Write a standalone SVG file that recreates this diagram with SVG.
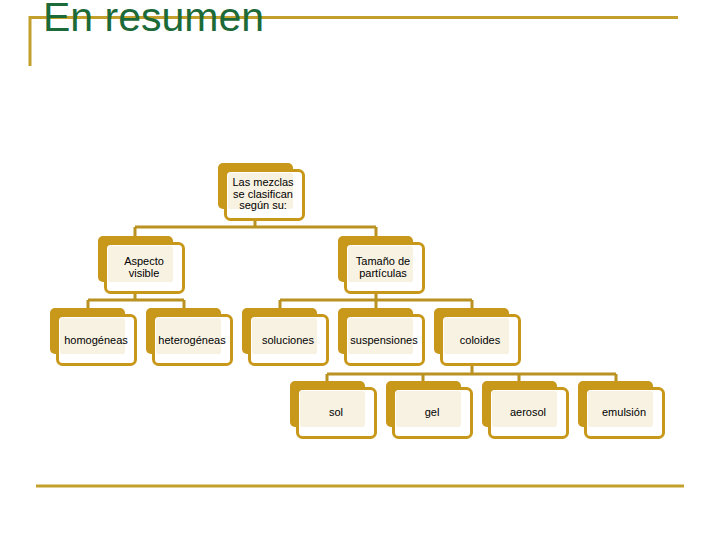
<svg xmlns="http://www.w3.org/2000/svg" width="720" height="540" viewBox="0 0 720 540">
<style>
.back{fill:#C8981A;}
.front{fill:#FFFFFF;stroke:#C8981A;stroke-width:3;}
.cream{fill:#F8F2E3;}
.lbl{font-family:"Liberation Sans",Arial,sans-serif;font-size:11px;fill:#000;text-anchor:middle;}
.conn{fill:none;stroke:#BA9221;stroke-width:3;}
.rule{stroke:#C3A02B;stroke-width:3;fill:none;}
</style>
<defs>
<g id="node">
<rect class="back" x="0" y="0" width="75" height="46" rx="5"/>
<rect class="front" x="7.5" y="7.5" width="78" height="49" rx="5"/>
<rect class="cream" x="10" y="10" width="65" height="36" rx="2"/>
</g>
</defs>
<rect width="720" height="540" fill="#FFFFFF"/>
<g id="title">
<line class="rule" x1="30" y1="17.5" x2="678" y2="17.5"/>
<line class="rule" x1="30" y1="16" x2="30" y2="66"/>
<text x="43" y="31" font-family="Liberation Sans,Arial,sans-serif" font-size="41" fill="#1B6A38">En resumen</text>
</g>
<line class="rule" x1="36" y1="486" x2="684" y2="486"/>
<g id="connectors">
<path class="conn" d="M255,219 V227 M135,227 H376 M135,227 V238 M376,227 V238"/>
<path class="conn" d="M135,292 V300 M88,300 H184 M88,300 V310 M184,300 V310"/>
<path class="conn" d="M376,292 V300 M280,300 H472 M280,300 V310 M376,300 V310 M472,300 V310"/>
<path class="conn" d="M472,364 V374 M327,374 H616 M327,374 V383 M423,374 V383 M519,374 V383 M616,374 V383"/>
</g>
<g id="n-mezclas">
<use href="#node" x="218" y="163"/>
<text class="lbl" x="263" y="186">Las mezclas</text>
<text class="lbl" x="263" y="197.5">se clasifican</text>
<text class="lbl" x="263" y="209">según su:</text>
</g>
<g id="n-aspecto">
<use href="#node" x="98" y="236"/>
<text class="lbl" x="144" y="265">Aspecto</text>
<text class="lbl" x="144" y="277">visible</text>
</g>
<g id="n-tamano">
<use href="#node" x="338" y="236"/>
<text class="lbl" x="383" y="265">Tamaño de</text>
<text class="lbl" x="383" y="277">partículas</text>
</g>
<g id="n-homogeneas">
<use href="#node" x="50" y="308"/>
<text class="lbl" x="96" y="344">homogéneas</text>
</g>
<g id="n-heterogeneas">
<use href="#node" x="146" y="308"/>
<text class="lbl" x="192" y="344">heterogéneas</text>
</g>
<g id="n-soluciones">
<use href="#node" x="242" y="308"/>
<text class="lbl" x="288" y="344">soluciones</text>
</g>
<g id="n-suspensiones">
<use href="#node" x="338" y="308"/>
<text class="lbl" x="384" y="344">suspensiones</text>
</g>
<g id="n-coloides">
<use href="#node" x="434" y="308"/>
<text class="lbl" x="480" y="344">coloides</text>
</g>
<g id="n-sol">
<use href="#node" x="290" y="381"/>
<text class="lbl" x="336" y="416">sol</text>
</g>
<g id="n-gel">
<use href="#node" x="386" y="381"/>
<text class="lbl" x="432" y="416">gel</text>
</g>
<g id="n-aerosol">
<use href="#node" x="482" y="381"/>
<text class="lbl" x="528" y="416">aerosol</text>
</g>
<g id="n-emulsion">
<use href="#node" x="578" y="381"/>
<text class="lbl" x="624" y="416">emulsión</text>
</g>
</svg>
